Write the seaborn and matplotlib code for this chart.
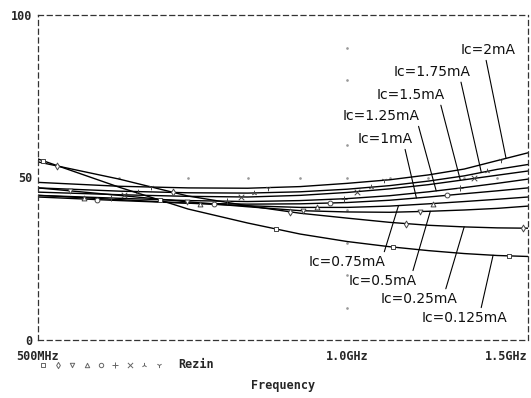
import numpy as np
import pandas as pd
import matplotlib
matplotlib.use('Agg')
import matplotlib.pyplot as plt
import seaborn as sns

# frequency sweep, MHz
freq_mhz = [500, 600, 700, 800, 900, 1000, 1100, 1200, 1300, 1400, 1500]

# Rezin for each collector current
r_0125 = [55.7, 47.0, 40.3, 36.0, 32.6, 30.3, 28.7, 27.5, 26.6, 26.0, 25.7]
r_025 = [54.8, 49.5, 44.3, 41.3, 39.0, 37.5, 36.2, 35.3, 34.8, 34.5, 34.4]
r_05 = [46.8, 44.5, 42.5, 41.0, 39.8, 39.4, 39.3, 39.6, 40.0, 40.5, 41.2]
r_075 = [44.5, 43.2, 42.1, 41.3, 40.8, 40.8, 41.2, 41.9, 42.6, 43.3, 44.0]
r_1 = [44.0, 42.9, 42.1, 41.8, 41.9, 42.3, 43.0, 44.0, 45.0, 45.9, 46.8]
r_125 = [44.5, 43.6, 42.9, 42.6, 42.9, 43.5, 44.4, 45.6, 46.9, 48.2, 49.5]
r_15 = [45.5, 44.7, 44.2, 44.0, 44.5, 45.4, 46.5, 47.8, 49.3, 50.7, 52.0]
r_175 = [46.8, 45.8, 45.3, 45.2, 45.6, 46.4, 47.5, 48.9, 50.5, 52.5, 54.0]
r_2 = [48.5, 47.3, 46.8, 46.7, 47.2, 48.2, 49.3, 50.8, 52.6, 55.2, 57.6]

labels = ['Ic=0.125mA', 'Ic=0.25mA', 'Ic=0.5mA', 'Ic=0.75mA', 'Ic=1mA',
          'Ic=1.25mA', 'Ic=1.5mA', 'Ic=1.75mA', 'Ic=2mA']
series = [r_0125, r_025, r_05, r_075, r_1, r_125, r_15, r_175, r_2]
markers = ['s', 'd', 'v', '^', 'o', '+', 'x', '2', '1']

y_ticks = [0, 50, 100]
x_ticks = [500, 1000, 1500]
x_ticklabels = ['500MHz', '1.0GHz', '1.5GHz']

# label text position (MHz, value), target frequency, line start on text box
ann = {
    'Ic=2mA': ((1372, 89.2), 1428, (0.45, 0.0)),
    'Ic=1.75mA': ((1211, 82.5), 1351, (0.86, 0.0)),
    'Ic=1.5mA': ((1153, 75.4), 1289, (0.93, 0.0)),
    'Ic=1.25mA': ((1080, 68.9), 1221, (0.97, 0.0)),
    'Ic=1mA': ((1090, 61.8), 1168, (0.84, 0.0)),
    'Ic=0.75mA': ((1000, 24.0), 1122, (0.97, 1.0)),
    'Ic=0.5mA': ((1083, 18.2), 1205, (0.93, 1.0)),
    'Ic=0.25mA': ((1176, 12.6), 1300, (0.83, 1.0)),
    'Ic=0.125mA': ((1300, 6.8), 1387, (0.69, 1.0)),
}

df = pd.concat([pd.DataFrame({'freq': freq_mhz, 'rezin': s, 'ic': l})
                for l, s in zip(labels, series)])

sns.set_style('white')
plt.rcParams['font.family'] = ['DejaVu Sans']

fig = plt.figure(figsize=(5.31, 3.98), dpi=100)
ax = fig.add_axes([38 / 531, 1 - 340 / 398, 490 / 531, 325 / 398])

sns.lineplot(data=df, x='freq', y='rezin', hue='ic', palette=['black'] * 9,
             legend=False, linewidth=1.0, ax=ax)
ax.set_xscale('log')
ax.set_xlim(500, 1500)
ax.set_ylim(0, 100)

# markers spaced along the curve like Probe does
logf = np.log10(freq_mhz)
lo, hi = logf[0], logf[-1]
for i, (s, m) in enumerate(zip(series, markers)):
    fr = np.arange(0.0102 + 0.0276 * i, 1.0, 0.2378)
    lf = lo + fr * (hi - lo)
    yv = np.interp(lf, logf, s)
    filled = m in ('s', 'd', 'v', '^', 'o')
    ax.scatter(10 ** lf, yv, marker=m, s=12 if filled else 16,
               facecolors='white' if filled else '#444444',
               edgecolors='#444444', linewidths=0.7, zorder=3)

# dotted grid points
gx = [600, 700, 800, 900, 1000, 1100, 1200, 1300, 1400]
ax.scatter(gx, [50] * len(gx), s=0.8, color='#999999', zorder=1)
gy = [10, 20, 30, 40, 60, 70, 80, 90]
ax.scatter([1000] * len(gy), gy, s=0.8, color='#999999', zorder=1)

for l, s in zip(labels, series):
    (tx, ty), tf, rp = ann[l]
    yv = np.interp(np.log10(tf), logf, s)
    ax.annotate(l, xy=(tf, yv), xytext=(tx, ty), ha='center', va='center',
                fontsize=10, color='#111111',
                arrowprops=dict(arrowstyle='-', color='black', lw=0.8,
                                relpos=rp, shrinkA=0, shrinkB=0))

for sp in ax.spines.values():
    sp.set_visible(True)
    sp.set_linestyle((0, (4, 3)))
    sp.set_linewidth(0.9)
    sp.set_color('#333333')

ax.set_yticks(y_ticks)
ax.set_yticklabels([str(v) for v in y_ticks], family='DejaVu Sans Mono',
                   fontweight='bold', fontsize=8.5)
ax.set_xticks(x_ticks)
ax.set_xticklabels(x_ticklabels, family='DejaVu Sans Mono',
                   fontweight='bold', fontsize=8.5)
ax.xaxis.set_minor_locator(matplotlib.ticker.NullLocator())
ax.get_xticklabels()[-1].set_ha('right')
ax.tick_params(axis='y', direction='inout', length=6, width=0.8, pad=1)
ax.tick_params(axis='x', direction='inout', length=6, width=0.8, pad=4)
ax.set_xlabel('')
ax.set_ylabel('')

# legend row under the axis
lax = fig.add_axes([36 / 531, 1 - 372 / 398, 130 / 531, 14 / 398])
lax.set_xlim(-0.5, 8.5)
lax.set_ylim(-1, 1)
lax.axis('off')
for i, m in enumerate(markers):
    filled = m in ('s', 'd', 'v', '^', 'o')
    lax.scatter([i], [0], marker=m, s=10 if filled else 14,
                facecolors='white' if filled else '#666666',
                edgecolors='#666666', linewidths=0.7)
fig.text(178 / 531, 1 - 365 / 398, 'Rezin', family='DejaVu Sans Mono',
         fontweight='bold', fontsize=8.5, va='center')
fig.text(283 / 531, 1 - 386 / 398, 'Frequency', family='DejaVu Sans Mono',
         fontweight='bold', fontsize=8.5, va='center', ha='center')

fig.savefig('out.png', dpi=100)
